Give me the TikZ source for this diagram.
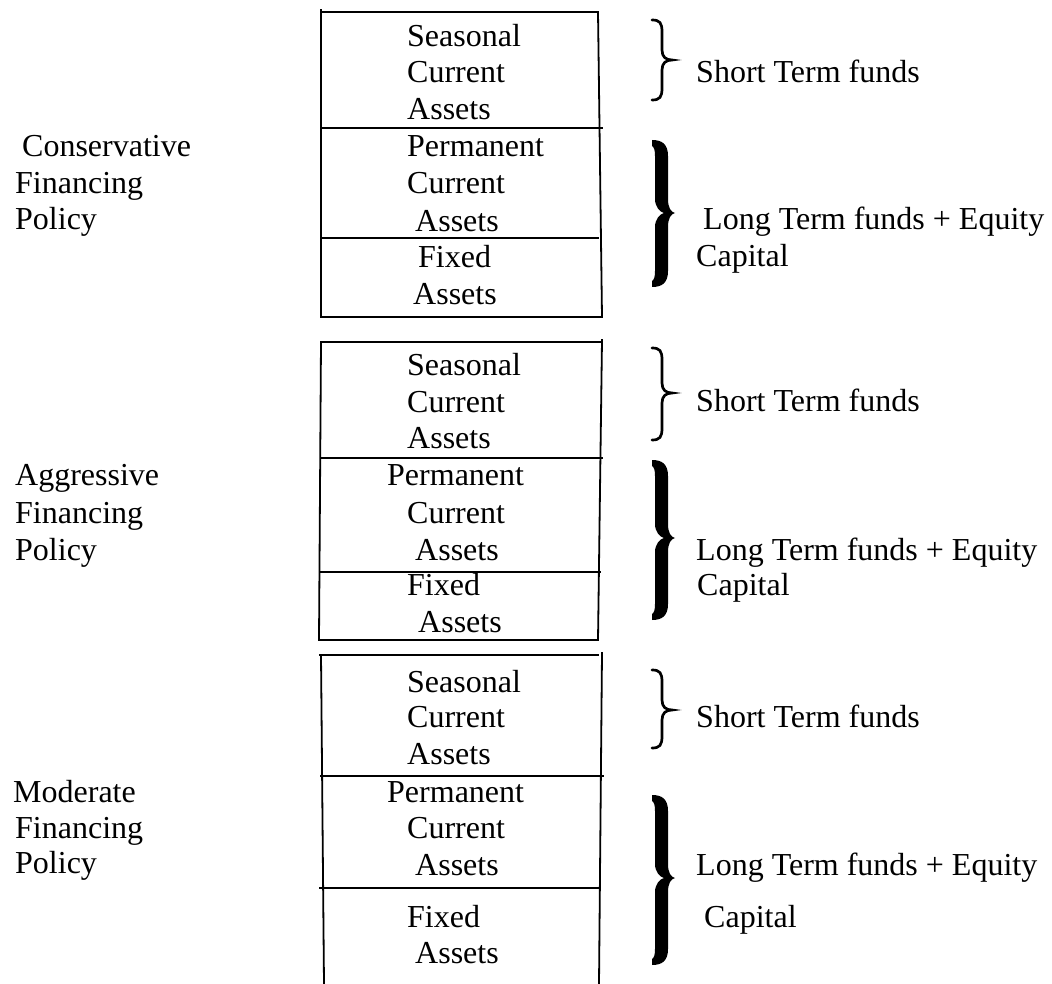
\documentclass[tikz,border=0pt]{standalone}
\usepackage{fontspec}
\setmainfont{Liberation Serif}

% thin curly brace: x, top, bottom, tip height
\newcommand\thinbr[4]{%
  \draw[line width=2.7pt, line cap=round]
    (#1,#2) .. controls (#1+8,#2) and (#1+10,#2+3) .. (#1+10,#2+12)
    -- (#1+10,#4-10) .. controls (#1+10,#4-3) and (#1+14,#4) .. (#1+20,#4)
    .. controls (#1+14,#4) and (#1+10,#4+3) .. (#1+10,#4+10)
    -- (#1+10,#3-12) .. controls (#1+10,#3-3) and (#1+8,#3) .. (#1,#3);
}
% bold curly brace, drawn as a filled outline: x, top, bottom, tip height
\newcommand\boldbr[4]{%
  \fill (#1,#2) .. controls (#1+10,#2) and (#1+16,#2+4) .. (#1+16,#2+16)
    -- (#1+16,#4-14) .. controls (#1+16,#4-5) and (#1+19,#4-1) .. (#1+23,#4)
    .. controls (#1+19,#4+1) and (#1+16,#4+5) .. (#1+16,#4+14)
    -- (#1+16,#3-16) .. controls (#1+16,#3-4) and (#1+10,#3) .. (#1,#3)
    -- (#1,#3-6) .. controls (#1+2,#3-7) and (#1+3,#3-10) .. (#1+3,#3-16)
    -- (#1+3,#4+14) .. controls (#1+3,#4+6) and (#1+8,#4+1) .. (#1+12,#4)
    .. controls (#1+8,#4-1) and (#1+3,#4-6) .. (#1+3,#4-14)
    -- (#1+3,#2+16) .. controls (#1+3,#2+10) and (#1+2,#2+7) .. (#1,#2+6)
    -- cycle;
}

\begin{document}
\begin{tikzpicture}[x=1pt,y=-1pt,
  txt/.style={anchor=base west, inner sep=0pt, font=\fontsize{32}{36}\selectfont},
  rule/.style={line width=1.8pt, line cap=rect}]
\useasboundingbox (0,0) rectangle (1052,984);

% ---- conservative policy stack ----
\draw[rule] (321,10) -- (321,317);
\draw[rule] (321,12) -- (598,12);
\draw[rule] (598,12) -- (602,317);
\draw[rule] (321,128) -- (602,128);
\draw[rule] (321,238) -- (598,238);
\draw[rule] (321,317) -- (602,317);

\node[txt] (c-s1) at (407,47) {Seasonal};
\node[txt] (c-s2) at (407,83) {Current};
\node[txt] (c-s3) at (407,120) {Assets};
\node[txt] (c-p1) at (407,157) {Permanent};
\node[txt] (c-p2) at (407,194) {Current};
\node[txt] (c-p3) at (415,232) {Assets};
\node[txt] (c-f1) at (418,268) {Fixed};
\node[txt] (c-f2) at (413,305) {Assets};

\node[txt] (c-l1) at (22,157) {Conservative};
\node[txt] (c-l2) at (15,194) {Financing};
\node[txt] (c-l3) at (15,230) {Policy};

\thinbr{652}{20}{100}{60}
\boldbr{652}{140}{287}{213}
\node[txt] (c-st) at (696,83) {Short Term funds};
\node[txt] (c-lt) at (703,230) {Long Term funds + Equity};
\node[txt] (c-cap) at (696,267) {Capital};

% ---- aggressive policy stack ----
\draw[rule] (321,342) -- (319,640);
\draw[rule] (321,342) -- (602,342);
\draw[rule] (602,340) -- (598,640);
\draw[rule] (321,458) -- (602,458);
\draw[rule] (320,572) -- (600,572);
\draw[rule] (319,640) -- (598,640);

\node[txt] (a-s1) at (407,375) {Seasonal};
\node[txt] (a-s2) at (407,412) {Current};
\node[txt] (a-s3) at (407,448) {Assets};
\node[txt] (a-p1) at (387,485) {Permanent};
\node[txt] (a-p2) at (407,523) {Current};
\node[txt] (a-p3) at (415,560) {Assets};
\node[txt] (a-f1) at (407,595) {Fixed};
\node[txt] (a-f2) at (418,632) {Assets};

\node[txt] (a-l1) at (15,485) {Aggressive};
\node[txt] (a-l2) at (15,523) {Financing};
\node[txt] (a-l3) at (15,560) {Policy};

\thinbr{652}{348}{440}{393}
\boldbr{652}{460}{620}{538}
\node[txt] (a-st) at (696,411) {Short Term funds};
\node[txt] (a-lt) at (696,560) {Long Term funds + Equity};
\node[txt] (a-cap) at (697,595) {Capital};

% ---- moderate policy stack ----
\draw[rule] (321,655) -- (324,984);
\draw[rule] (320,655) -- (598,655);
\draw[rule] (602,653) -- (599,984);
\draw[rule] (321,776) -- (603,776);
\draw[rule] (320,888) -- (599,888);

\node[txt] (m-s1) at (407,692) {Seasonal};
\node[txt] (m-s2) at (407,727) {Current};
\node[txt] (m-s3) at (407,764) {Assets};
\node[txt] (m-p1) at (387,802) {Permanent};
\node[txt] (m-p2) at (407,838) {Current};
\node[txt] (m-p3) at (415,875) {Assets};
\node[txt] (m-f1) at (407,927) {Fixed};
\node[txt] (m-f2) at (415,963) {Assets};

\node[txt] (m-l1) at (13,802) {Moderate};
\node[txt] (m-l2) at (15,838) {Financing};
\node[txt] (m-l3) at (15,873) {Policy};

\thinbr{652}{670}{748}{710}
\boldbr{652}{795}{965}{878}
\node[txt] (m-st) at (696,727) {Short Term funds};
\node[txt] (m-lt) at (696,875) {Long Term funds + Equity};
\node[txt] (m-cap) at (704,927) {Capital};
\end{tikzpicture}
\end{document}
